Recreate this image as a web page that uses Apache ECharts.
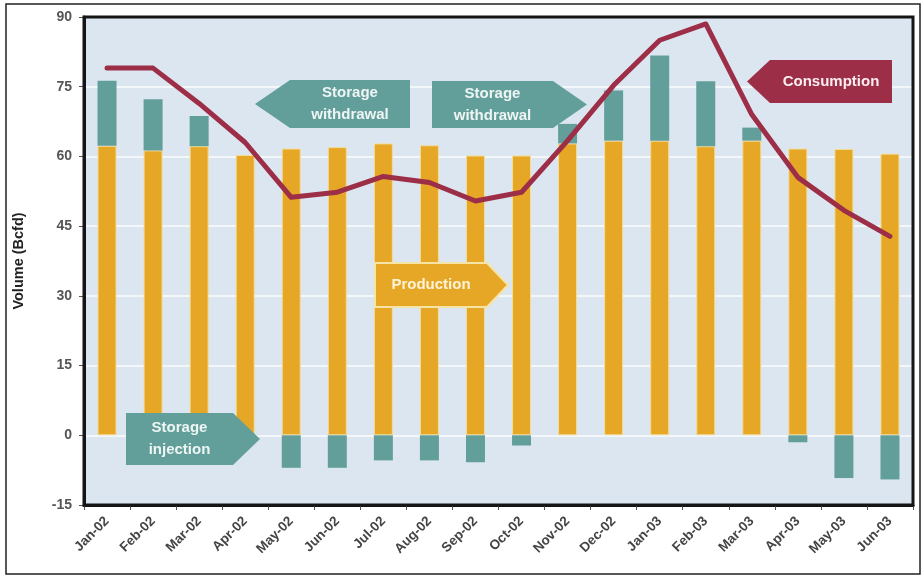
<!DOCTYPE html>
<html>
<head>
<meta charset="utf-8">
<title>Natural gas supply and consumption</title>
<script src="https://cdn.jsdelivr.net/npm/echarts@6/dist/echarts.min.js"></script>
<style>
  html, body { margin: 0; padding: 0; background: #ffffff; }
  #chart { width: 924px; height: 577px; }
</style>
</head>
<body>
<div id="chart"></div>
<script>
// Monthly categories
const months = ['Jan-02', 'Feb-02', 'Mar-02', 'Apr-02', 'May-02', 'Jun-02', 'Jul-02', 'Aug-02', 'Sep-02',
  'Oct-02', 'Nov-02', 'Dec-02', 'Jan-03', 'Feb-03', 'Mar-03', 'Apr-03', 'May-03', 'Jun-03'];

// Dry gas production (Bcfd)
const production = [62.3, 61.3, 62.2, 60.3, 61.7, 62.0, 62.8, 62.4, 60.2, 60.2, 62.8, 63.4, 63.4, 62.2, 63.4, 61.7, 61.6, 60.6];

// Net storage: positive = withdrawal (adds to supply), negative = injection
const storage = [14.0, 11.0, 6.5, 0, -7.0, -7.0, -5.4, -5.4, -5.8, -2.2, 4.2, 10.8, 18.3, 14.0, 2.8, -1.5, -9.2, -9.5];

// Total consumption (Bcfd)
const consumption = [79.0, 79.0, 71.4, 63.0, 51.2, 52.3, 55.7, 54.4, 50.4, 52.3, 63.4, 75.3, 85.0, 88.5, 69.0, 55.5, 48.4, 42.8];

// Value axis ticks
const yMin = -15, yMax = 90, yStep = 15;

const ORANGE = '#e6a726';
const TEAL = '#629f9b';
const CRIMSON = '#9d2e47';
const TXT = "'Liberation Sans', Arial, sans-serif";

// Plot area box in pixels
const G = { left: 84, top: 17, right: 11, bottom: 72 };
const W = 924, H = 577;

// Pentagon-style callout (arrow pointing left or right)
function callout(x, y, w, h, tip, dir, fill, lines, textColor, stroke) {
  const pts = dir === 'left'
    ? [[x, y + h / 2], [x + tip, y], [x + w, y], [x + w, y + h], [x + tip, y + h]]
    : [[x, y], [x + w - tip, y], [x + w, y + h / 2], [x + w - tip, y + h], [x, y + h]];
  const cx = dir === 'left' ? x + tip + (w - tip) / 2 : x + (w - tip) / 2;
  return [
    {
      type: 'polygon', z: 20,
      shape: { points: pts },
      style: { fill: fill, stroke: stroke || 'none', lineWidth: stroke ? 2 : 0 }
    },
    {
      type: 'text', z: 21, x: cx, y: y + h / 2,
      style: {
        text: lines.join('\n'), fill: textColor, font: 'bold 15px ' + TXT,
        align: 'center', verticalAlign: 'middle', lineHeight: 22
      }
    }
  ];
}

const chart = echarts.init(document.getElementById('chart'), null, { renderer: 'canvas' });

const option = {
  animation: false,
  backgroundColor: '#ffffff',
  grid: {
    left: G.left, top: G.top, right: G.right, bottom: G.bottom,
    show: true, backgroundColor: '#dce6f0', borderWidth: 0
  },
  xAxis: {
    type: 'category',
    data: months,
    boundaryGap: true,
    axisLine: { show: true, onZero: false, lineStyle: { color: '#151515', width: 3 } },
    axisTick: { show: true, alignWithLabel: false, length: 5, lineStyle: { color: '#555', width: 1 } },
    axisLabel: { rotate: 45, margin: 14, color: '#444', fontWeight: 'bold', fontSize: 13.5, fontFamily: TXT },
    splitLine: { show: false }
  },
  yAxis: {
    type: 'value',
    min: yMin, max: yMax, interval: yStep,
    name: 'Volume (Bcfd)',
    nameLocation: 'middle',
    nameGap: 58,
    nameTextStyle: { color: '#222', fontWeight: 'bold', fontSize: 14.5, fontFamily: TXT },
    axisLine: { show: true, lineStyle: { color: '#151515', width: 3 } },
    axisTick: { show: true, length: 5, lineStyle: { color: '#555', width: 1 } },
    axisLabel: { margin: 12, color: '#555', fontWeight: 'bold', fontSize: 14, fontFamily: TXT },
    splitLine: { show: true, showMinLine: false, showMaxLine: false, lineStyle: { color: '#f4f7fa', width: 2 } }
  },
  series: [
    {
      name: 'Production', type: 'bar', stack: 'supply', data: production,
      barWidth: 19,
      itemStyle: { color: ORANGE, borderColor: '#f3dc9a', borderWidth: 1 }
    },
    {
      name: 'Storage', type: 'bar', stack: 'supply', data: storage,
      barWidth: 19,
      itemStyle: { color: TEAL }
    },
    {
      name: 'Consumption', type: 'line', data: consumption,
      symbol: 'none', smooth: false, z: 10,
      lineStyle: { color: CRIMSON, width: 5, cap: 'round', join: 'round' }
    }
  ],
  graphic: [
    // outer frame
    {
      type: 'rect', z: 30, silent: true,
      shape: { x: 6, y: 4, width: 914, height: 570 },
      style: { fill: 'none', stroke: '#222', lineWidth: 1.5 }
    },
    // heavy frame around the plot area
    {
      type: 'rect', z: 30, silent: true,
      shape: { x: G.left, y: G.top, width: W - G.left - G.right, height: H - G.top - G.bottom },
      style: { fill: 'none', stroke: '#151515', lineWidth: 3 }
    },
    ...callout(255, 80, 155, 48, 35, 'left', TEAL, ['Storage', 'withdrawal'], '#eef5f4'),
    ...callout(432, 81, 155, 47, 34, 'right', TEAL, ['Storage', 'withdrawal'], '#eef5f4'),
    ...callout(747, 60, 145, 43, 23, 'left', CRIMSON, ['Consumption'], '#fbeef0'),
    ...callout(375, 263, 133, 44, 21, 'right', ORANGE, ['Production'], '#fdf3d6', '#f6e3a6'),
    ...callout(126, 413, 134, 52, 27, 'right', TEAL, ['Storage', 'injection'], '#eef5f4')
  ]
};

chart.setOption(option);
</script>
</body>
</html>
